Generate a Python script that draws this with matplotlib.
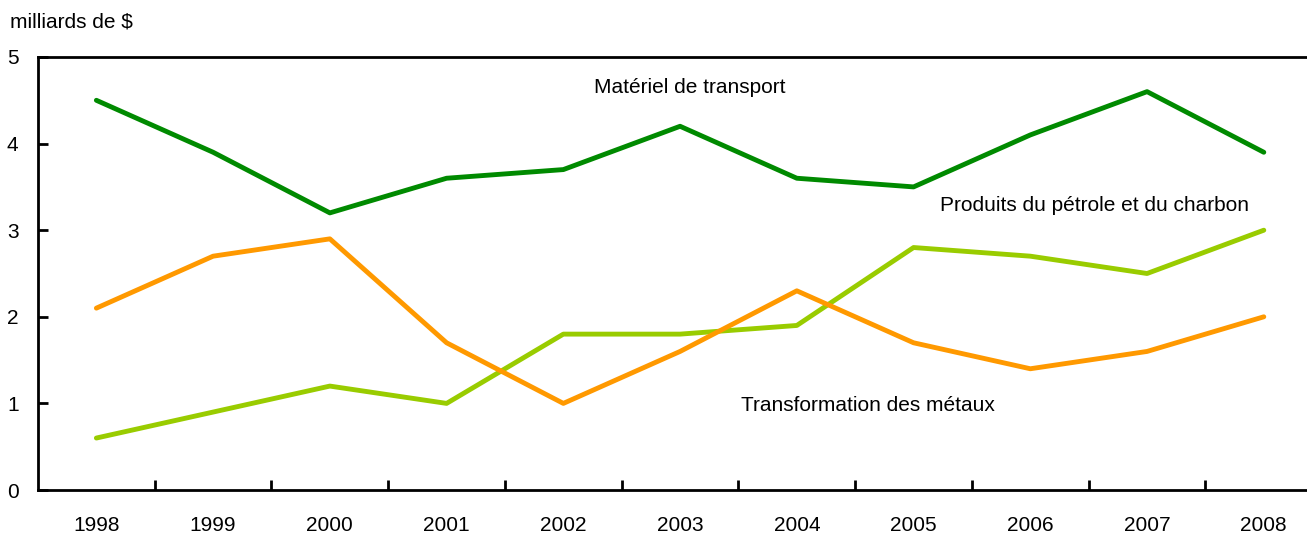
import matplotlib
matplotlib.use('Agg')
import matplotlib.pyplot as plt
import numpy as np

plt.rcParams['font.family'] = ['Liberation Sans', 'DejaVu Sans']

years = [1998, 1999, 2000, 2001, 2002, 2003, 2004, 2005, 2006, 2007, 2008]
transport = [4.5, 3.9, 3.2, 3.6, 3.7, 4.2, 3.6, 3.5, 4.1, 4.6, 3.9]
petrole = [0.6, 0.9, 1.2, 1.0, 1.8, 1.8, 1.9, 2.8, 2.7, 2.5, 3.0]
metaux = [2.1, 2.7, 2.9, 1.7, 1.0, 1.6, 2.3, 1.7, 1.4, 1.6, 2.0]

fig = plt.figure(figsize=(13.07, 5.33), dpi=100)
ax = fig.add_axes([38/1307, 1-490/533, 1-38/1307, (490-57)/533])

lw = 3.5
ax.plot(years, transport, color='#008a00', linewidth=lw, solid_capstyle='round')
ax.plot(years, petrole, color='#99cc00', linewidth=lw, solid_capstyle='round')
ax.plot(years, metaux, color='#ff9900', linewidth=lw, solid_capstyle='round')

ax.set_xlim(1997.5, 2008.37)
ax.set_ylim(0, 5)

ax.spines['right'].set_visible(False)
for s in ['left', 'bottom', 'top']:
    ax.spines[s].set_linewidth(2)

fs = 15
ax.set_yticks([0, 1, 2, 3, 4, 5])
ax.tick_params(axis='y', direction='in', length=7, width=2, labelsize=fs, pad=14)
ax.set_xticks(years)
ax.set_xticklabels([str(y) for y in years])
ax.tick_params(axis='x', length=0, labelsize=fs, pad=19)
ax.set_xticks(np.arange(1998.5, 2008, 1), minor=True)
ax.tick_params(axis='x', which='minor', direction='in', length=7, width=2)

ax.text(2003.08, 4.65, 'Matériel de transport', fontsize=fs, ha='center', va='center')
ax.text(2006.55, 3.28, 'Produits du pétrole et du charbon', fontsize=fs, ha='center', va='center')
ax.text(2004.61, 0.98, 'Transformation des métaux', fontsize=fs, ha='center', va='center')
fig.text(10/1307, 1-22/533, 'milliards de $', fontsize=fs, ha='left', va='center')

fig.savefig('out.png', dpi=100)
